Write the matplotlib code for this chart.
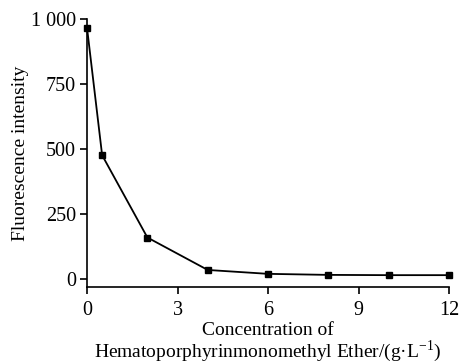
import matplotlib.pyplot as plt
from matplotlib.ticker import FixedLocator, FuncFormatter

plt.rcParams["font.family"] = "Liberation Serif"
plt.rcParams["mathtext.fontset"] = "custom"
plt.rcParams["mathtext.rm"] = "Liberation Serif"

concentration = [0, 0.5, 2, 4, 6, 8, 10, 12]
intensity = [965, 475, 158, 33, 18, 14, 13, 13]

x_ticks = [0, 3, 6, 9, 12]
y_ticks = [0, 250, 500, 750, 1000]

fig = plt.figure(figsize=(4.63, 3.64), dpi=100)
ax = fig.add_axes([0.188, 0.212, 0.782, 0.736])

ax.plot(concentration, intensity, color="black", lw=1.3, marker="s", ms=4.5,
        clip_on=False, zorder=3)

ax.set_xlim(0, 12)
ax.set_ylim(-32, 1000)
ax.xaxis.set_major_locator(FixedLocator(x_ticks))
ax.yaxis.set_major_locator(FixedLocator(y_ticks))
ax.yaxis.set_major_formatter(FuncFormatter(lambda v, p: f"{int(v):,}".replace(",", " ")))

for s in ["top", "right"]:
    ax.spines[s].set_visible(False)
for s in ["left", "bottom"]:
    ax.spines[s].set_linewidth(1.2)
ax.tick_params(direction="out", length=5, width=1.2, labelsize=14.5, pad=3)
ax.tick_params(axis="x", pad=5)

ax.set_ylabel("Fluorescence intensity", fontsize=14, labelpad=1)
ax.set_xlabel("Concentration of\nHematoporphyrinmonomethyl Ether/(g·L$^{\\mathrm{-1}}$)",
              fontsize=14, labelpad=2, linespacing=0.95)

fig.savefig("out.png", dpi=100)
